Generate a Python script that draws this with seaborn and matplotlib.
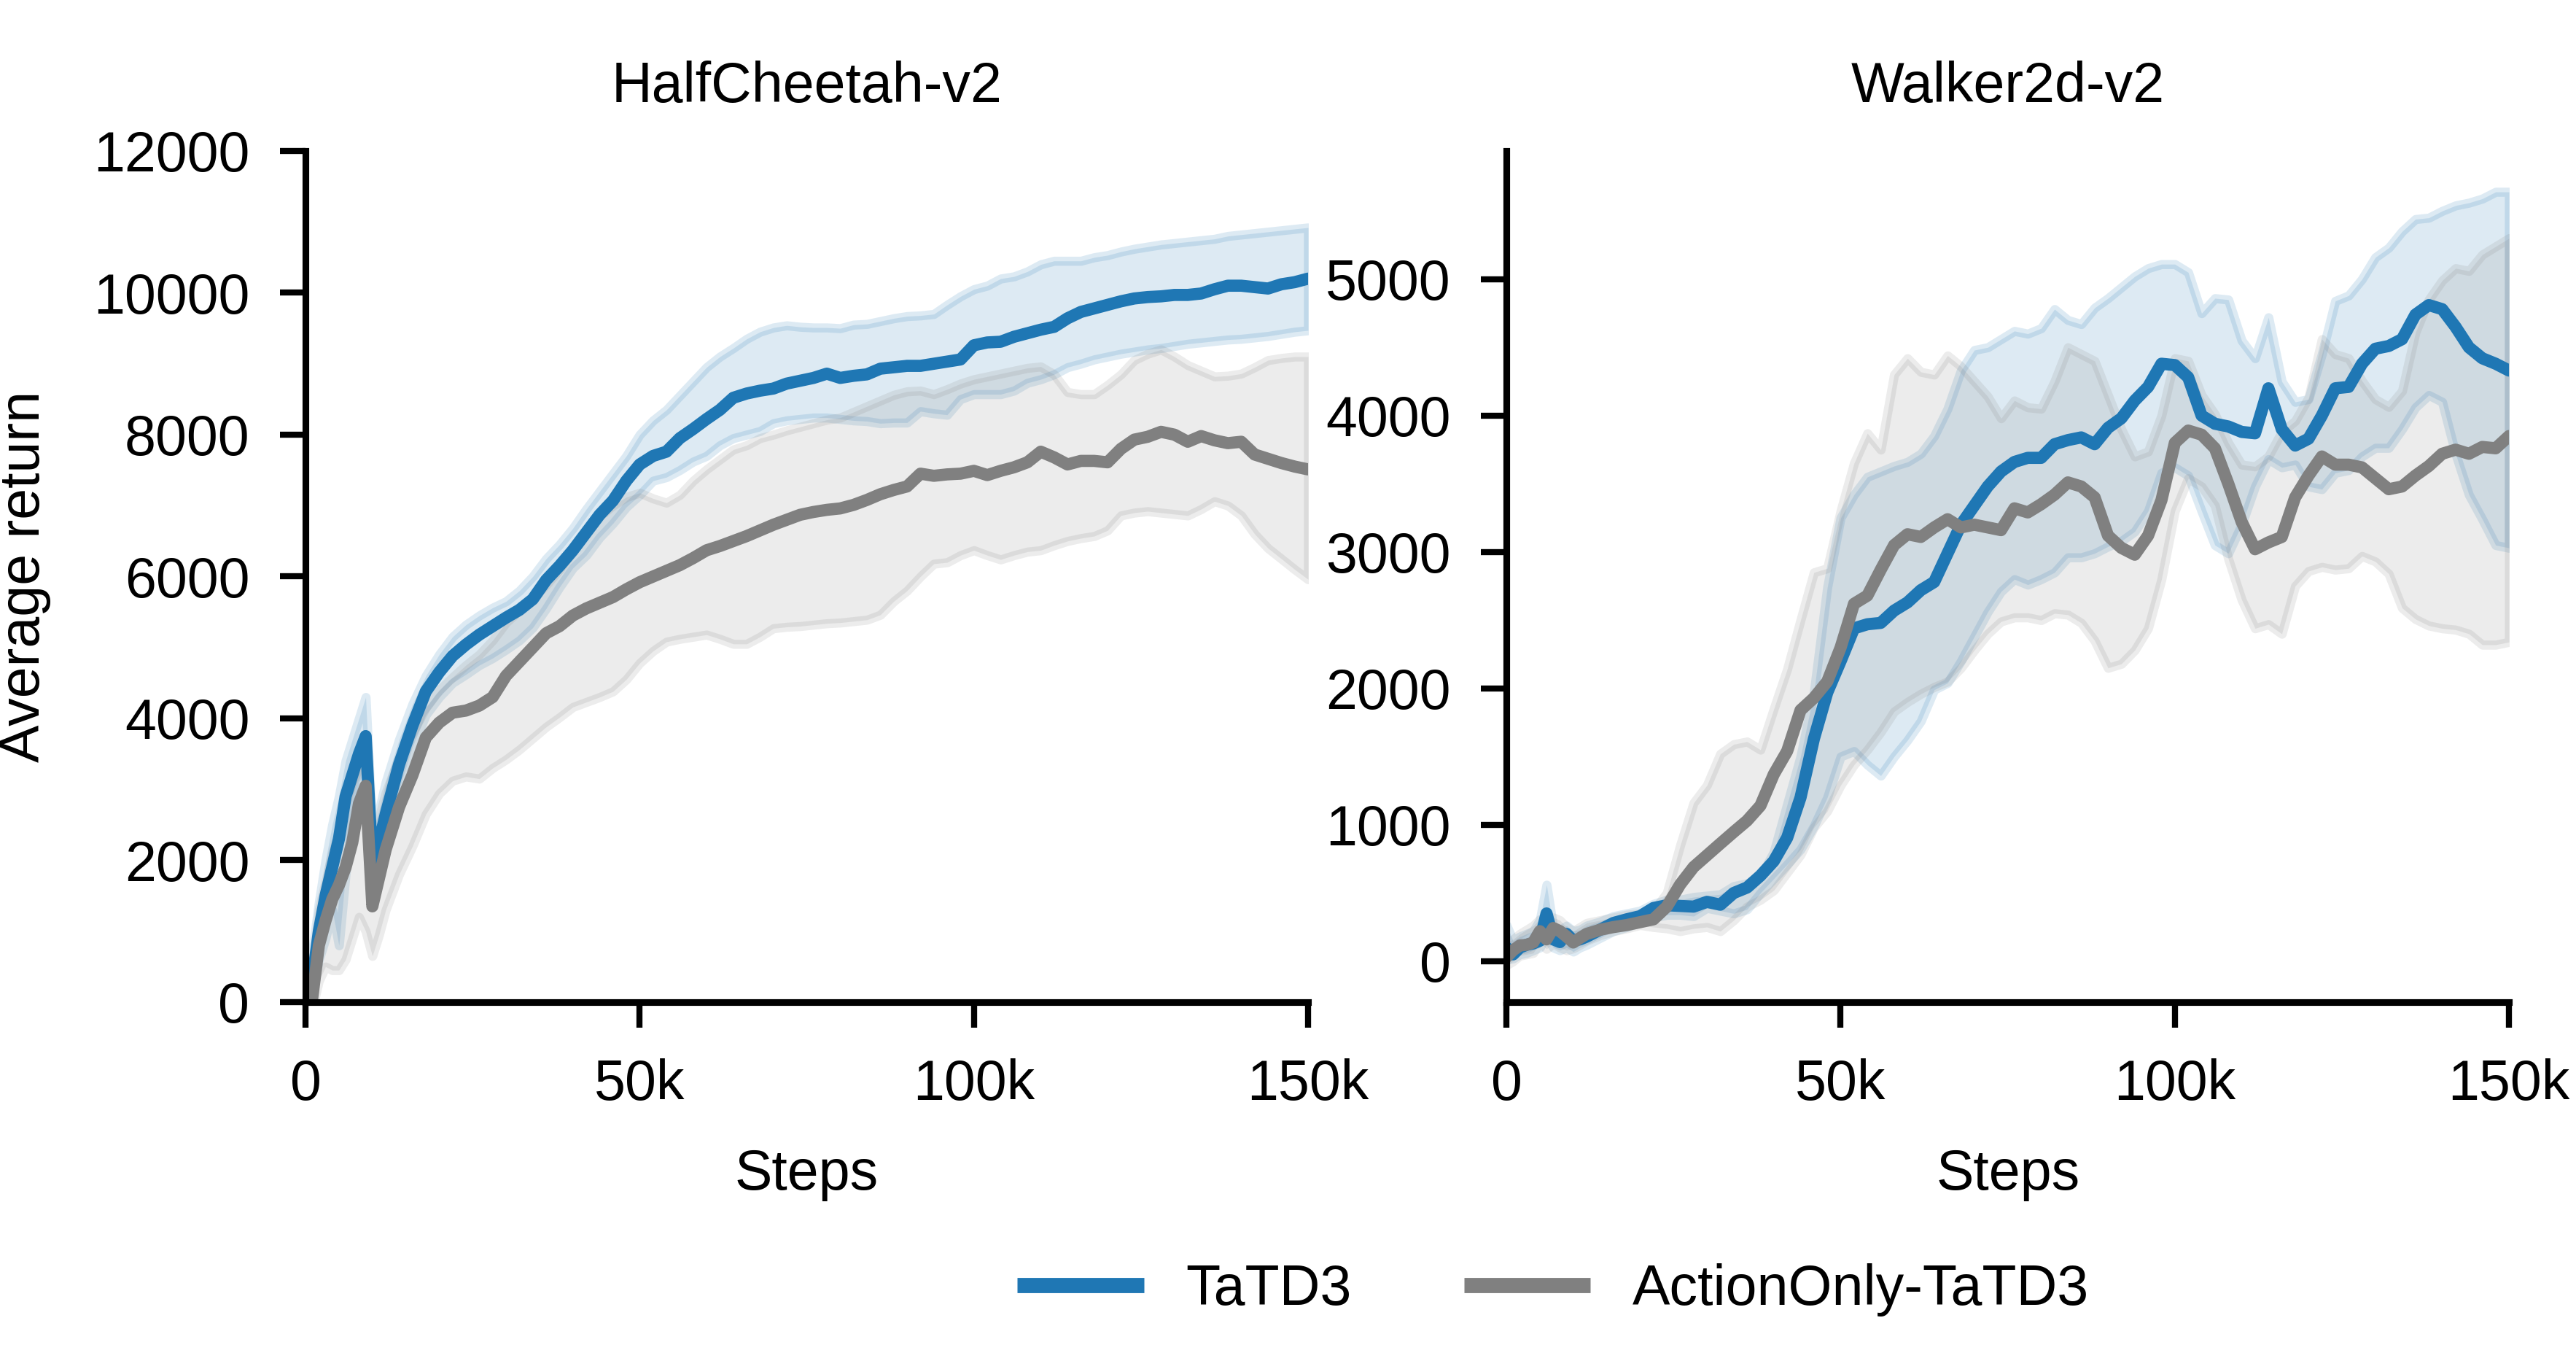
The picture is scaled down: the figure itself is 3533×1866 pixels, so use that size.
import numpy as np
import pandas as pd
import seaborn as sns
import matplotlib.pyplot as plt

# x positions (thousands of steps)
steps_k = [0, 1, 2, 3, 4, 5, 6, 7, 8, 9, 10, 11, 12,
           14, 16, 18, 20, 22, 24, 26, 28, 30, 32,
           34, 36, 38, 40, 42, 44, 46, 48, 50, 52,
           54, 56, 58, 60, 62, 64, 66, 68, 70, 72,
           74, 76, 78, 80, 82, 84, 86, 88, 90, 92,
           94, 96, 98, 100, 102, 104, 106, 108, 110, 112,
           114, 116, 118, 120, 122, 124, 126, 128, 130, 132,
           134, 136, 138, 140, 142, 144, 146, 148, 150]

# HalfCheetah-v2 : TaTD3
hc_tatd3 = [100, 300, 1000, 1500, 1900, 2300, 2900, 3200, 3500, 3750, 1950, 2250, 2650,
            3350, 3900, 4380, 4650, 4880, 5040, 5180, 5300, 5420, 5530,
            5680, 5950, 6150, 6370, 6620, 6870, 7070, 7350, 7580, 7700,
            7760, 7950, 8080, 8220, 8350, 8520, 8580, 8620, 8650, 8720,
            8760, 8800, 8860, 8800, 8830, 8850, 8930, 8950, 8970, 8970,
            9000, 9030, 9060, 9260, 9300, 9310, 9380, 9430, 9480, 9520,
            9640, 9730, 9780, 9830, 9880, 9920, 9940, 9950, 9970, 9970,
            9990, 10050, 10100, 10100, 10080, 10060, 10120, 10150, 10200]
hc_tatd3_lo = [0, 100, 600, 900, 1300, 800, 1800, 2600, 3100, 3300, 1500, 1900, 2300,
               3000, 3600, 4050, 4300, 4500, 4620, 4750, 4850, 4970, 5100,
               5280, 5550, 5850, 6120, 6300, 6550, 6750, 6980, 7150, 7350,
               7400, 7500, 7620, 7700, 7850, 7950, 8000, 8050, 8160, 8200,
               8220, 8240, 8240, 8220, 8200, 8190, 8160, 8170, 8170, 8330,
               8300, 8280, 8500, 8570, 8570, 8570, 8620, 8730, 8780, 8850,
               8950, 9000, 9060, 9100, 9140, 9170, 9200, 9220, 9250, 9280,
               9300, 9320, 9340, 9350, 9370, 9390, 9420, 9450, 9470]
hc_tatd3_hi = [350, 700, 1400, 2000, 2500, 2900, 3400, 3700, 4000, 4300, 2400, 2700, 3100,
               3700, 4200, 4600, 4900, 5150, 5320, 5450, 5560, 5650, 5800,
               6000, 6250, 6450, 6680, 6950, 7200, 7450, 7700, 8000, 8200,
               8350, 8550, 8750, 8950, 9100, 9220, 9350, 9450, 9510, 9540,
               9520, 9510, 9510, 9500, 9550, 9560, 9600, 9640, 9670, 9680,
               9700, 9830, 9950, 10050, 10100, 10200, 10230, 10300, 10400, 10450,
               10450, 10450, 10500, 10530, 10580, 10620, 10650, 10680, 10700, 10720,
               10740, 10760, 10800, 10820, 10840, 10860, 10880, 10900, 10920]

# HalfCheetah-v2 : ActionOnly-TaTD3
hc_action = [0, 50, 800, 1150, 1450, 1650, 1900, 2250, 2800, 3050, 1350, 1750, 2150,
             2750, 3200, 3730, 3940, 4080, 4110, 4180, 4300, 4600, 4800,
             5000, 5200, 5300, 5450, 5550, 5630, 5710, 5820, 5920, 6000,
             6080, 6160, 6260, 6370, 6430, 6500, 6570, 6650, 6730, 6800,
             6870, 6910, 6940, 6960, 7010, 7080, 7160, 7220, 7270, 7450,
             7420, 7440, 7450, 7490, 7430, 7490, 7540, 7610, 7760, 7680,
             7580, 7630, 7630, 7610, 7800, 7930, 7970, 8040, 8000, 7900,
             7980, 7920, 7880, 7900, 7720, 7660, 7600, 7550, 7510]
hc_action_lo = [-100, -100, 300, 500, 450, 450, 600, 900, 1200, 1000, 650, 950, 1300,
                1800, 2200, 2650, 2940, 3120, 3180, 3150, 3300, 3420, 3560,
                3720, 3880, 4015, 4160, 4230, 4300, 4380, 4550, 4780, 4950,
                5080, 5120, 5150, 5180, 5120, 5050, 5050, 5150, 5270, 5290,
                5300, 5320, 5340, 5350, 5370, 5390, 5460, 5650, 5800, 6000,
                6180, 6200, 6300, 6370, 6300, 6240, 6300, 6350, 6370, 6440,
                6500, 6540, 6570, 6650, 6860, 6900, 6920, 6900, 6880, 6860,
                6950, 7060, 7000, 6860, 6600, 6400, 6250, 6100, 5960]
hc_action_hi = [100, 400, 1300, 1700, 2100, 2400, 2800, 3100, 3300, 3400, 2300, 2600, 2950,
                3450, 3800, 4150, 4400, 4580, 4750, 4900, 5100, 5350, 5520,
                5700, 5880, 6100, 6350, 6600, 6850, 7000, 7120, 7180, 7100,
                7040, 7150, 7350, 7510, 7650, 7790, 7850, 7950, 8000, 8060,
                8110, 8160, 8210, 8240, 8320, 8400, 8480, 8560, 8610, 8620,
                8570, 8640, 8720, 8780, 8820, 8860, 8900, 8940, 8960, 8850,
                8600, 8570, 8570, 8700, 8850, 9050, 9140, 9200, 9100, 8980,
                8900, 8820, 8830, 8860, 8950, 9050, 9080, 9100, 9100]

# Walker2d-v2 : TaTD3
wk_tatd3 = [100, 50, 100, 120, 130, 150, 350, 160, 140, 200, 150, 160, 180,
            230, 280, 307, 330, 390, 410, 405, 400, 435, 414,
            500, 540, 627, 734, 905, 1200, 1630, 1970, 2200, 2440,
            2470, 2480, 2570, 2630, 2720, 2780, 2990, 3200, 3340, 3480,
            3590, 3660, 3690, 3690, 3790, 3820, 3840, 3790, 3910, 3980,
            4110, 4210, 4380, 4370, 4280, 4000, 3940, 3920, 3880, 3870,
            4200, 3900, 3780, 3830, 4000, 4200, 4210, 4380, 4490, 4510,
            4560, 4740, 4810, 4780, 4650, 4500, 4420, 4380, 4330]
wk_tatd3_lo = [10, 20, 50, 60, 80, 100, 180, 100, 80, 100, 70, 100, 120,
               170, 220, 250, 285, 320, 340, 340, 330, 390, 370,
               350, 380, 500, 605, 710, 820, 990, 1200, 1500, 1540,
               1440, 1360, 1500, 1620, 1760, 1990, 2040, 2200, 2380, 2560,
               2710, 2800, 2760, 2800, 2850, 2960, 2960, 2990, 3040, 3080,
               3150, 3300, 3580, 3620, 3560, 3300, 3050, 2990, 3200, 3480,
               3680, 3620, 3640, 3480, 3460, 3580, 3600, 3700, 3763, 3763,
               3900, 4060, 4150, 4100, 3720, 3420, 3240, 3050, 3030]
wk_tatd3_hi = [265, 150, 180, 200, 220, 300, 560, 250, 230, 260, 220, 230, 260,
               290, 330, 350, 370, 420, 450, 450, 470, 480, 490,
               550, 570, 620, 800, 1150, 1500, 1970, 2740, 3250, 3420,
               3550, 3590, 3630, 3660, 3720, 3850, 4050, 4330, 4480, 4500,
               4560, 4620, 4600, 4640, 4780, 4700, 4670, 4790, 4860, 4940,
               5020, 5080, 5110, 5110, 5050, 4750, 4860, 4850, 4550, 4420,
               4720, 4250, 4100, 4120, 4450, 4840, 4880, 5000, 5160, 5230,
               5350, 5440, 5450, 5500, 5540, 5560, 5590, 5640, 5640]

# Walker2d-v2 : ActionOnly-TaTD3
wk_action = [30, 80, 115, 120, 137, 220, 160, 243, 220, 180, 137, 170, 200,
             230, 250, 265, 286, 307, 400, 563, 690, 776, 862,
             947, 1030, 1140, 1370, 1540, 1840, 1930, 2050, 2300, 2620,
             2680, 2870, 3050, 3130, 3110, 3180, 3240, 3180, 3200, 3180,
             3160, 3320, 3290, 3350, 3420, 3510, 3480, 3400, 3120, 3030,
             2980, 3120, 3380, 3800, 3890, 3860, 3760, 3500, 3220, 3020,
             3070, 3110, 3400, 3560, 3700, 3640, 3640, 3620, 3540, 3460,
             3480, 3560, 3630, 3720, 3750, 3720, 3770, 3760, 3850]
wk_action_lo = [-30, 0, 40, 50, 60, 137, 90, 130, 100, 80, 94, 120, 150,
                190, 220, 240, 265, 250, 240, 220, 240, 250, 220,
                300, 400, 450, 520, 650, 780, 980, 1100, 1290, 1440,
                1550, 1680, 1830, 1900, 1960, 2010, 2050, 2150, 2280, 2400,
                2490, 2520, 2520, 2500, 2550, 2540, 2480, 2350, 2150, 2180,
                2280, 2440, 2800, 3300, 3540, 3480, 3340, 2950, 2650, 2440,
                2470, 2400, 2750, 2860, 2890, 2870, 2880, 2970, 2930, 2840,
                2590, 2508, 2460, 2440, 2430, 2400, 2320, 2320, 2340]
wk_action_hi = [137, 160, 200, 230, 260, 307, 260, 320, 300, 250, 220, 250, 280,
                300, 320, 340, 350, 370, 500, 850, 1160, 1290, 1520,
                1590, 1610, 1550, 1850, 2140, 2500, 2850, 2880, 3300, 3650,
                3870, 3750, 4300, 4420, 4320, 4300, 4440, 4360, 4250, 4140,
                3980, 4110, 4060, 4050, 4250, 4500, 4450, 4400, 4150, 3900,
                3700, 3736, 4000, 4420, 4400, 4150, 4010, 3800, 3640, 3627,
                3700, 3880, 3960, 4130, 4560, 4450, 4420, 4254, 4120, 4063,
                4180, 4609, 4850, 4990, 5080, 5060, 5180, 5240, 5300]

titles = ['HalfCheetah-v2', 'Walker2d-v2']
labels = ['TaTD3', 'ActionOnly-TaTD3']
xtick_vals = [0, 50000, 100000, 150000]
xtick_labels = ['0', '50k', '100k', '150k']

sns.set_style('ticks')
plt.rcParams['font.family'] = ['Liberation Sans', 'DejaVu Sans']
for key in ['text.color', 'axes.labelcolor', 'xtick.color', 'ytick.color', 'axes.edgecolor']:
    plt.rcParams[key] = 'black'

blue = '#1f77b4'
gray = '#808080'
fs = 18.5

fig = plt.figure(figsize=(3533 / 300, 1866 / 300), dpi=300)
ax1 = fig.add_axes([0.1186, 0.2637, 0.3892, 0.6254])
ax2 = fig.add_axes([0.5848, 0.2637, 0.3892, 0.6254])

x = np.array(steps_k) * 1000

panels = [
    (ax1, titles[0], [(labels[0], hc_tatd3, hc_tatd3_lo, hc_tatd3_hi, blue),
                      (labels[1], hc_action, hc_action_lo, hc_action_hi, gray)]),
    (ax2, titles[1], [(labels[0], wk_tatd3, wk_tatd3_lo, wk_tatd3_hi, blue),
                      (labels[1], wk_action, wk_action_lo, wk_action_hi, gray)]),
]

for ax, title, series in panels:
    # bands first, then the mean curves on top
    for name, mean, lo, hi, c in series:
        ax.fill_between(x, lo, hi, color=c, alpha=0.15, lw=3)
    for name, mean, lo, hi, c in series:
        df = pd.DataFrame({'Steps': x, 'Average return': mean})
        sns.lineplot(data=df, x='Steps', y='Average return', ax=ax, color=c,
                     lw=4, label=name, legend=False)
    ax.set_title(title, fontsize=fs, pad=16)
    ax.set_xlim(0, 150000)
    ax.set_xticks(xtick_vals)
    ax.set_xticklabels(xtick_labels)
    ax.set_xlabel('Steps', fontsize=fs, labelpad=12)
    ax.tick_params(labelsize=fs, width=2, length=8.4, pad=10)
    for s in ax.spines.values():
        s.set_linewidth(2.2)

ax1.set_ylim(0, 12000)
ax1.set_yticks([0, 2000, 4000, 6000, 8000, 10000, 12000])
ax1.set_ylabel('Average return', fontsize=fs, labelpad=14)

ax2.set_ylim(-300, 5940)
ax2.set_yticks([0, 1000, 2000, 3000, 4000, 5000])
ax2.set_ylabel('')

sns.despine(fig=fig)

handles, labs = ax1.get_legend_handles_labels()
leg = fig.legend(handles, labs, loc='center', bbox_to_anchor=(0.603, 0.052),
                 ncol=2, frameon=False, fontsize=fs, handlelength=2.25,
                 handletextpad=0.75, columnspacing=2.0)
for line in leg.get_lines():
    line.set_linewidth(5)
    line.set_solid_capstyle('butt')

fig.savefig('out.png', dpi=300)
